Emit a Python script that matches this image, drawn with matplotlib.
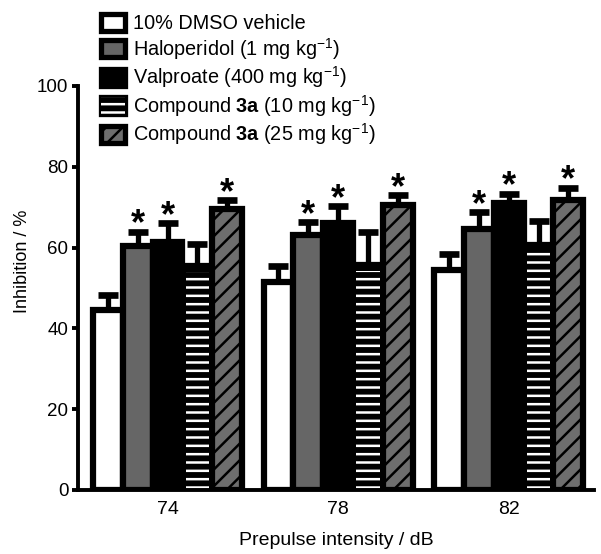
import numpy as np
import matplotlib
matplotlib.use("Agg")
import matplotlib.pyplot as plt
from matplotlib.patches import Patch
from matplotlib.legend_handler import HandlerTuple

plt.rcParams['font.family'] = ['Liberation Sans', 'DejaVu Sans']
plt.rcParams['mathtext.fontset'] = 'custom'
plt.rcParams['mathtext.rm'] = 'Liberation Sans'
plt.rcParams['mathtext.bf'] = 'Liberation Sans:bold'
plt.rcParams['mathtext.it'] = 'Liberation Sans:italic'
plt.rcParams['hatch.linewidth'] = 1.8

# data
groups = ['74', '78', '82']
labels = ['10% DMSO vehicle',
          'Haloperidol (1 mg kg$^{-1}$)',
          'Valproate (400 mg kg$^{-1}$)',
          r'Compound $\mathbf{3a}$ (10 mg kg$^{-1}$)',
          r'Compound $\mathbf{3a}$ (25 mg kg$^{-1}$)']
vehicle = [44.5, 51.5, 54.5]
vehicle_err = [3.8, 3.9, 3.9]
haloperidol = [60.5, 63.1, 64.6]
haloperidol_err = [3.4, 3.2, 4.2]
valproate = [61.4, 66.1, 71.0]
valproate_err = [4.6, 4.2, 2.3]
cmp10 = [55.5, 55.7, 60.6]
cmp10_err = [5.5, 8.2, 6.0]
cmp25 = [69.6, 70.5, 71.8]
cmp25_err = [2.2, 2.5, 3.0]
signif = [False, True, True, False, True]

series = [vehicle, haloperidol, valproate, cmp10, cmp25]
errors = [vehicle_err, haloperidol_err, valproate_err, cmp10_err, cmp25_err]
faces = ['white', '#666666', 'black', 'black', '#6e6e6e']
hatches = [None, None, None, None, '//']

fig = plt.figure(figsize=(6.01, 5.54), dpi=100)
ax = fig.add_axes([78/601, 64/554, 516/601, 404/554])

x = np.arange(len(groups))
w = 0.175
lw = 4.5

for i, (vals, errs) in enumerate(zip(series, errors)):
    xs = x + (i - 2) * w
    ax.bar(xs, vals, w, color=faces[i], edgecolor='black', linewidth=lw,
           hatch=hatches[i], zorder=2)
    if i == 3:
        # white horizontal stripes on the black bar
        ax.bar(xs, np.array(vals) - 1.6, w - 0.038, fill=False, edgecolor='white',
               linewidth=0, hatch='--', zorder=2.5)
    eb = ax.errorbar(xs, vals, yerr=[np.zeros(len(vals)), errs], fmt='none',
                     ecolor='black', elinewidth=3.8, capsize=7, capthick=4.8,
                     zorder=3)
    eb[1][0].set_visible(False)
    if signif[i]:
        for xi, v, e in zip(xs, vals, errs):
            ax.annotate('*', (xi, v + e), xytext=(0, -2), textcoords='offset points',
                        ha='center', va='baseline', fontsize=26, fontweight='bold')

ax.set_xlim(-0.525, 2.5)
ax.set_ylim(0, 100)
ax.set_yticks([0, 20, 40, 60, 80, 100])
ax.set_xticks(x)
ax.set_xticklabels(groups)
ax.tick_params(axis='x', length=0, pad=8, labelsize=14)
ax.tick_params(axis='y', length=4, width=2.8, pad=3, labelsize=13.5)
for s in ['top', 'right']:
    ax.spines[s].set_visible(False)
for s in ['left', 'bottom']:
    ax.spines[s].set_linewidth(2.8)

ax.set_xlabel('Prepulse intensity / dB', fontsize=14, labelpad=10)
ax.set_ylabel('Inhibition / %', fontsize=13)
ax.yaxis.set_label_coords(-0.091, 0.567)

handles = [Patch(facecolor='white', edgecolor='black', linewidth=3.8),
           Patch(facecolor='#666666', edgecolor='black', linewidth=3.8),
           Patch(facecolor='black', edgecolor='black', linewidth=3.8),
           (Patch(facecolor='black', edgecolor='black', linewidth=3.8),
            Patch(fill=False, edgecolor='white', linewidth=0, hatch='--')),
           Patch(facecolor='#6e6e6e', edgecolor='black', linewidth=3.8, hatch='//')]
fig.legend(handles, labels, loc='upper left', bbox_to_anchor=(101/601, 1 - 14/554),
           frameon=False, fontsize=14.3, handlelength=1.2, handleheight=0.95,
           handletextpad=0.42, labelspacing=0.13, borderpad=0, borderaxespad=0,
           handler_map={tuple: HandlerTuple(ndivide=1, pad=0)})

fig.savefig('out.png', dpi=100)
